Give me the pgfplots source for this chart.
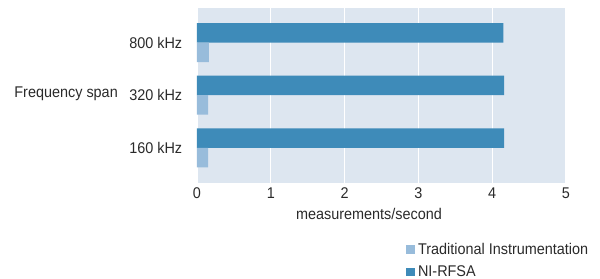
\documentclass[border=0pt]{standalone}
\usepackage{pgfplots}
\pgfplotsset{compat=1.18}
\usepackage{fontspec}
\setmainfont[FakeStretch=0.93]{Liberation Sans}
\definecolor{nicol}{HTML}{3E8BB9}
\definecolor{tradcol}{HTML}{98BCDB}
\definecolor{bgcol}{HTML}{DDE6F0}
\definecolor{txt}{HTML}{2A2A2A}
\begin{document}
\begin{tikzpicture}
\path[use as bounding box] (-197bp,-96bp) rectangle (403bp,183bp);
\begin{axis}[
  at={(0,0)}, anchor=south west,
  scale only axis, width=369bp, height=175bp,
  xmin=0, xmax=5, ymin=-0.67, ymax=2.66,
  xbar, bar width=19.5bp,
  axis background/.style={fill=bgcol},
  axis line style={draw=none},
  tick style={draw=none},
  xtick={0,1,2,3,4,5},
  ytick={0,1,2},
  yticklabels={160 kHz,320 kHz,800 kHz},
  xmajorgrids, grid style={white, line width=1.2bp},
  font=\fontsize{15.5bp}{18bp}\selectfont,
  /pgf/number format/assume math mode=true,
  tick label style={text=txt},
  yticklabel style={xshift=-7bp},
  xticklabel style={yshift=-1bp},
  xlabel={measurements/second},
  xlabel style={at={(axis description cs:0.466,0)}, anchor=north, yshift=-22bp, text=txt},
  legend style={at={(rel axis cs:0.566,-0.33)}, anchor=north west, draw=none, fill=none,
    inner sep=0pt, row sep=6bp, cells={anchor=west}, text=txt,
    font=\fontsize{15.5bp}{18bp}\selectfont, nodes={inner xsep=3bp}},
  legend image code/.code={\fill[#1] (0bp,-4.3bp) rectangle (9bp,4.3bp);},
]
\addplot[fill=nicol, draw=none, bar shift=9.75bp, forget plot] coordinates {(4.16,0) (4.16,1) (4.15,2)};
\addplot[fill=tradcol, draw=none, bar shift=-9.75bp] coordinates {(0.15,0) (0.15,1) (0.16,2)};
\addlegendentry{Traditional Instrumentation}
\addlegendimage{fill=nicol, draw=none}
\addlegendentry{NI-RFSA}
\end{axis}
\node[anchor=base east, text=txt, font=\fontsize{15.5bp}{18bp}\selectfont, inner xsep=0pt] at (-79bp,85bp) {Frequency span};
\end{tikzpicture}
\end{document}
